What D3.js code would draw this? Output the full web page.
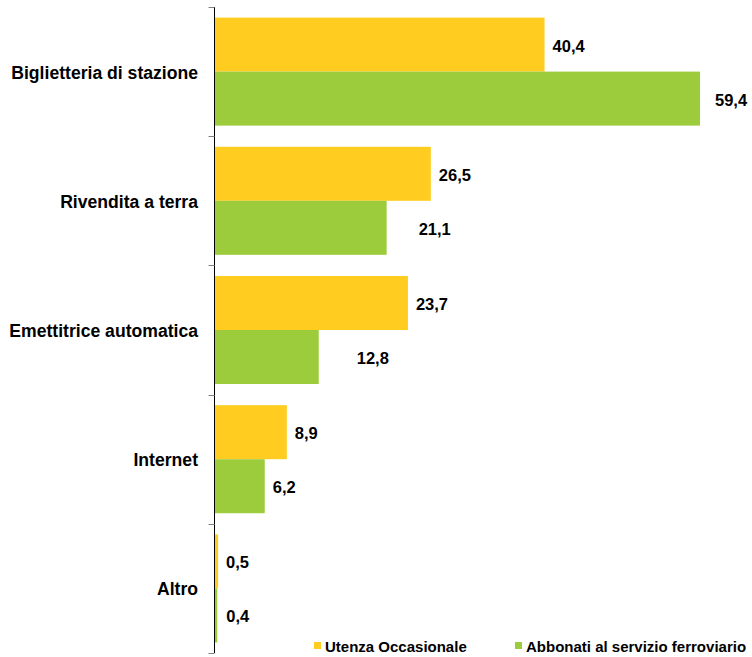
<!DOCTYPE html>
<html>
<head>
<meta charset="utf-8">
<script src="https://cdn.jsdelivr.net/npm/d3@7"></script>
<style>
  html, body { margin: 0; padding: 0; background: #fff; }
  svg text { font-family: "Liberation Sans", Arial, sans-serif; font-weight: bold; fill: #000; }
</style>
</head>
<body>
<svg id="chart" width="752" height="657"></svg>
<script>
// ---- data ----
const categories = ["Biglietteria di stazione", "Rivendita a terra", "Emettitrice automatica", "Internet", "Altro"];
const seriesNames = ["Utenza Occasionale", "Abbonati al servizio ferroviario"];
const occasionale = [40.4, 26.5, 23.7, 8.9, 0.5];
const abbonati = [59.4, 21.1, 12.8, 6.2, 0.4];
const seriesColors = ["#FFCC1F", "#9CCC3C"];

// layout tweaks for value labels (manual nudges as in the original)
const labelNudge = [[0, 0, 0, 0, 0], [7, 24, 30, 0, 1]];

const svg = d3.select("#chart");
const axisX = 214.5;
const x = d3.scaleLinear().domain([0, 59.4]).range([axisX - 0.5, 700]);
const y = d3.scaleBand().domain(categories).range([7, 653]).paddingInner(0).paddingOuter(0);
const sub = d3.scaleBand().domain(seriesNames).range([0, y.bandwidth()]).paddingInner(0).paddingOuter(0.196);

const fmt = v => d3.format(".1f")(v).replace(".", ",");
const seriesValues = [occasionale, abbonati];

const groups = svg.selectAll("g.cat").data(categories).enter().append("g")
  .attr("class", "cat")
  .attr("transform", d => `translate(0,${y(d)})`);

seriesValues.forEach((vals, si) => {
  groups.append("rect")
    .attr("x", x(0))
    .attr("y", sub(seriesNames[si]))
    .attr("width", (d, i) => x(vals[i]) - x(0))
    .attr("height", sub.bandwidth())
    .attr("fill", seriesColors[si]);
  groups.append("text")
    .attr("x", (d, i) => x(vals[i]) + 8 + labelNudge[si][i])
    .attr("y", sub(seriesNames[si]) + sub.bandwidth() / 2 + 1)
    .attr("dominant-baseline", "central")
    .style("font-size", "16.5px")
    .text((d, i) => fmt(vals[i]));
});

// category labels
svg.selectAll("text.catlabel").data(categories).enter().append("text")
  .attr("class", "catlabel")
  .attr("x", 198)
  .attr("y", d => y(d) + y.bandwidth() / 2 + 1)
  .attr("text-anchor", "end")
  .attr("dominant-baseline", "central")
  .style("font-size", "17.6px")
  .text(d => d);

// axis line and ticks
svg.append("line")
  .attr("x1", axisX).attr("x2", axisX)
  .attr("y1", y.range()[0]).attr("y2", y.range()[1])
  .attr("stroke", "#000").attr("stroke-width", 1);
const tickYs = categories.map(c => y(c)).concat([y.range()[1]]);
svg.selectAll("line.tick").data(tickYs).enter().append("line")
  .attr("class", "tick")
  .attr("x1", axisX - 6).attr("x2", axisX)
  .attr("y1", d => Math.round(d) + 0.5).attr("y2", d => Math.round(d) + 0.5)
  .attr("stroke", "#808080").attr("stroke-width", 1);

// legend
const legendX = [314, 515];
const lg = svg.selectAll("g.legend").data(seriesNames).enter().append("g")
  .attr("class", "legend")
  .attr("transform", (d, i) => `translate(${legendX[i]},642)`);
lg.append("rect").attr("width", 7).attr("height", 7).attr("fill", (d, i) => seriesColors[i]);
lg.append("text").attr("x", 11).attr("y", 9.5)
  .style("font-size", "15px")
  .text(d => d);
</script>
</body>
</html>
